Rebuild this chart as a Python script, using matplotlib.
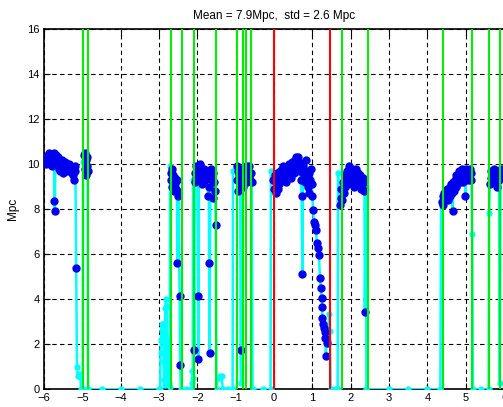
import numpy as np
import matplotlib
matplotlib.use("Agg")
import matplotlib.pyplot as plt

# Cyan-only samples (not in science mode): time [h], range [Mpc]
t_cyan = [-5.14, -5.12, -5.09, -5.06, -5.03, -5.00, -4.99, -4.98,
          -4.85, -4.5, -4.0, -3.5, -3.0, -2.97, -2.96, -2.95, -2.93, -2.91, -2.89,
          -2.88, -2.87, -2.85, -2.84, -2.82, -2.80, -2.78, -2.76, -2.74, -2.72, -2.71,
          -2.43, -2.3, -2.16, -2.14, -2.13, -2.12, -2.11,
          -1.50, -1.47, -1.43, -1.40, -1.36, -1.34, -1.2, -1.08, -1.07, -0.86,
          -0.56, -0.3, -0.09, -0.08,
          1.40, 1.44, 1.46, 1.48, 1.6, 1.66, 1.67, 1.69,
          2.40, 2.41, 3.0, 3.5, 4.0, 4.34, 4.36,
          5.17, 5.19, 5.4, 5.60, 5.61, 5.89]
r_cyan = [1.0, 0.6, 0.6, 0.7, 0.0, 0.0, 0.0, 10.1,
          0.0, 0.0, 0.0, 0.0, 0.0, 0.0, 1.6, 2.2, 2.9, 2.6, 2.9,
          1.2, 0.4, 0.2, 3.6, 4.0, 3.7, 0.5, 2.2, 0.3, 0.1, 9.9,
          0.0, 0.0, 0.0, 0.3, 0.8, 0.5, 9.3,
          0.0, 0.5, 0.5, 0.6, 0.6, 0.0, 0.0, 0.0, 9.7, 0.3,
          0.0, 0.0, 0.0, 9.7,
          2.2, 3.35, 2.6, 0.0, 0.0, 0.0, 9.6, 8.4,
          8.9, 0.0, 0.0, 0.0, 0.0, 0.0, 8.34,
          6.9, 0.0, 0.0, 0.0, 7.82, 0.3]

# Science-mode samples (blue dots)
t_sci = [-5.98, -5.96, -5.94, -5.92, -5.90, -5.88, -5.86, -5.84, -5.82, -5.80,
         -5.78, -5.76, -5.74, -5.73, -5.72, -5.70, -5.68, -5.66, -5.64, -5.62,
         -5.60, -5.58, -5.56, -5.54, -5.52, -5.50, -5.48, -5.46, -5.44, -5.42,
         -5.40, -5.38, -5.36, -5.34, -5.32, -5.30, -5.28, -5.26, -5.24, -5.22,
         -5.20, -5.18, -5.16,
         -4.96, -4.94, -4.93, -4.91, -4.90, -4.88, -4.87, -4.86,
         -2.69, -2.68, -2.66, -2.65, -2.63, -2.62, -2.60, -2.59, -2.57, -2.56,
         -2.54, -2.53, -2.52, -2.50, -2.46, -2.45,
         -2.08, -2.07, -2.06, -2.04, -2.03, -2.01, -2.00, -1.98, -1.97, -1.96,
         -1.94, -1.92, -1.90, -1.88, -1.86, -1.84, -1.82, -1.80, -1.78, -1.76,
         -1.74, -1.72, -1.70, -1.69, -1.68, -1.66, -1.64, -1.62, -1.60, -1.58,
         -1.56, -1.54, -1.52,
         -0.97, -0.96, -0.94, -0.93, -0.91, -0.90, -0.88, -0.87, -0.84, -0.82,
         -0.80, -0.78, -0.76, -0.74, -0.72, -0.70, -0.68, -0.66, -0.64, -0.62,
         -0.60, -0.58,
         -0.02, 0.00, 0.02, 0.04, 0.06, 0.08, 0.10, 0.12, 0.14, 0.16,
         0.18, 0.20, 0.22, 0.24, 0.26, 0.28, 0.30, 0.32, 0.34, 0.36,
         0.38, 0.40, 0.42, 0.44, 0.46, 0.48, 0.50, 0.52, 0.54, 0.56,
         0.58, 0.60, 0.62, 0.64, 0.66, 0.68, 0.70, 0.72, 0.74, 0.76,
         0.78, 0.80, 0.82, 0.84, 0.86, 0.88, 0.90, 0.92, 0.94, 0.96,
         0.98, 1.00, 1.02, 1.04, 1.06, 1.09, 1.12, 1.15, 1.17, 1.20,
         1.22, 1.24, 1.25, 1.26, 1.28, 1.30, 1.32, 1.34, 1.35, 1.37,
         1.72, 1.74, 1.76, 1.78, 1.80, 1.82, 1.84, 1.86, 1.88, 1.90,
         1.92, 1.94, 1.96, 1.98, 2.00, 2.02, 2.04, 2.06, 2.08, 2.10,
         2.12, 2.14, 2.16, 2.18, 2.20, 2.22, 2.24, 2.26, 2.28, 2.30,
         2.32, 2.34, 2.36, 2.37,
         4.38, 4.40, 4.42, 4.44, 4.46, 4.48, 4.50, 4.52, 4.54, 4.56,
         4.58, 4.60, 4.62, 4.64, 4.66, 4.68, 4.70, 4.72, 4.74, 4.76,
         4.78, 4.80, 4.82, 4.84, 4.86, 4.88, 4.90, 4.92, 4.94, 4.96,
         4.98, 4.99, 5.01, 5.03, 5.05, 5.07, 5.09, 5.11, 5.13, 5.15,
         5.63, 5.65, 5.67, 5.69, 5.71, 5.73, 5.75, 5.77, 5.79, 5.81,
         5.83, 5.85, 5.87, 5.91, 5.93, 5.96]
r_sci = [10.2, 10.0, 10.3, 10.1, 10.4, 10.2, 10.5, 10.0, 10.3, 9.9,
         10.4, 10.2, 10.5, 8.34, 7.92, 10.3, 10.4, 10.1, 10.3, 9.8,
         10.2, 9.7, 10.1, 9.9, 10.2, 9.6, 10.0, 9.8, 10.1, 9.7,
         10.0, 9.9, 9.7, 10.0, 9.8, 9.9, 9.6, 9.8, 9.5, 9.3,
         9.9, 9.7, 5.4,
         10.4, 9.8, 10.5, 9.5, 10.2, 9.9, 10.3, 9.7,
         9.6, 9.3, 9.8, 9.0, 9.5, 9.2, 8.8, 9.4, 9.1, 8.9,
         9.3, 8.8, 5.6, 8.6, 4.16, 1.08,
         1.75, 9.2, 9.6, 9.9, 9.4, 9.7, 9.5, 4.16, 1.33, 9.8,
         10.0, 9.4, 9.6, 9.1, 9.7, 9.5, 9.8, 9.3, 9.6, 9.4,
         9.7, 8.6, 9.0, 5.6, 1.6, 9.5, 9.8, 9.3, 8.5, 9.6,
         9.2, 8.8, 7.3,
         9.9, 9.3, 9.7, 8.8, 9.5, 9.1, 9.8, 1.75, 9.4, 9.0,
         9.6, 9.3, 9.8, 9.5, 9.9, 9.2, 9.7, 9.4, 9.9, 9.3,
         9.6, 9.2,
         9.3, 8.9, 9.5, 8.7, 9.2, 9.6, 8.9, 9.4, 9.1, 9.7,
         9.3, 9.8, 9.5, 9.9, 9.4, 9.6, 9.2, 9.7, 9.5, 9.9,
         9.6, 10.0, 9.7, 9.4, 9.8, 10.1, 9.9, 9.6, 10.2, 9.8,
         10.3, 10.0, 10.3, 9.7, 10.1, 9.8, 9.3, 8.6, 5.1, 9.9,
         9.5, 9.2, 9.7, 10.2, 9.4, 9.0, 9.6, 8.7, 9.3, 9.8,
         9.1, 8.6, 7.97, 7.45, 7.3, 7.08, 6.5, 6.27, 5.97, 4.93,
         4.49, 4.04, 3.67, 3.16, 2.9, 2.71, 2.27, 2.56, 1.49, 2.04,
         8.2, 8.5, 8.9, 8.4, 9.2, 8.7, 9.5, 9.0, 9.3, 9.7,
         9.1, 9.6, 9.9, 9.4, 9.7, 9.2, 9.8, 9.5, 9.0, 9.6,
         9.3, 9.8, 9.4, 9.1, 9.6, 9.2, 9.5, 8.9, 9.3, 9.0,
         9.4, 8.8, 9.2, 3.42,
         8.3, 8.6, 8.2, 8.7, 8.4, 8.8, 8.5, 8.9, 8.4, 8.8,
         9.0, 8.6, 9.1, 8.7, 7.94, 9.2, 8.8, 9.3, 9.0, 9.5,
         9.1, 9.4, 9.7, 9.2, 9.6, 9.3, 9.8, 9.5, 9.2, 9.7,
         9.4, 8.6, 9.8, 9.5, 9.3, 9.7, 9.4, 9.8, 9.3, 9.6,
         9.1, 9.4, 9.7, 9.2, 9.6, 9.8, 9.3, 9.7, 9.5, 9.0,
         9.4, 9.6, 9.3, 9.5, 9.8, 9.4]

# Segment flags (green) and marked events (red)
green_t = [-4.98, -4.86, -2.69, -2.41, -2.08, -1.52, -0.97, -0.82, -0.74, -0.61,
           1.78, 2.45, 4.40, 5.17, 5.62, 5.90]
red_t = [0.0, 1.45]

mean_range = 7.9
std_range = 2.6

# merge all samples in time order for the line
t_all = np.array(t_cyan + t_sci)
r_all = np.array(r_cyan + r_sci)
order = np.argsort(t_all, kind="stable")
t_all = t_all[order]
r_all = r_all[order]

plt.rcParams['font.family'] = ['Liberation Sans', 'DejaVu Sans']

fig = plt.figure(figsize=(5.03, 4.07), dpi=100)
ax = fig.add_axes([44 / 503, 17.7 / 407, 460 / 503, 360.3 / 407])

ax.plot(t_all, r_all, '-', color='#00ffff', lw=1.8, marker='o', ms=3.5,
        mec='#00ffff', mfc='#00ffff', zorder=3)
ax.plot(t_sci, r_sci, 'o', color='#0000ee', ms=5, mec='#0000ee', zorder=4)

for g in green_t:
    ax.axvline(g, color='#00ee00', lw=1.5, zorder=5)
for rt in red_t:
    ax.axvline(rt, color='#ff0000', lw=1.5, zorder=5)

ax.set_xlim(-6, 6)
ax.set_ylim(0, 16)
ax.set_xticks(np.arange(-6, 7, 1))
ax.set_yticks(np.arange(0, 17, 2))
ax.grid(True, color='black', linestyle=(0, (4, 3)), lw=0.8, zorder=1)
ax.set_axisbelow(True)
ax.tick_params(direction='in', top=True, right=True, length=4, labelsize=8,
               width=0.8, pad=3)
for s in ax.spines.values():
    s.set_linewidth(1.2)
    s.set_zorder(2)

ax.set_ylabel('Mpc', fontsize=8.5, labelpad=6)
ax.set_title(f'Mean = {mean_range}Mpc,  std = {std_range} Mpc', fontsize=8.5, pad=7)

fig.savefig('out.png', dpi=100)
